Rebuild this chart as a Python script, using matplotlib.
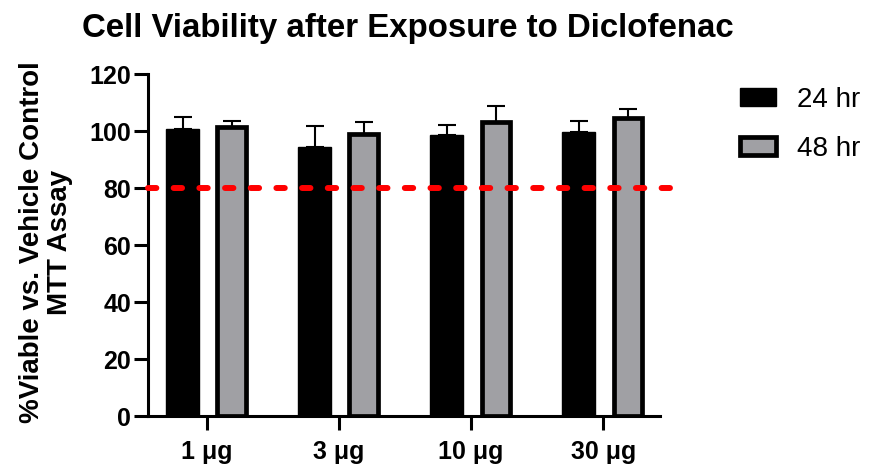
import matplotlib
matplotlib.use("Agg")
import matplotlib.pyplot as plt
import numpy as np
from matplotlib.patches import Patch

plt.rcParams['font.family'] = ['Liberation Sans', 'DejaVu Sans']

doses = ["1 \u03bcg", "3 \u03bcg", "10 \u03bcg", "30 \u03bcg"]
viab_24 = [100.7, 94.3, 98.8, 99.8]
err_24 = [4.3, 7.5, 3.5, 3.7]
viab_48 = [101.5, 99.0, 103.2, 104.7]
err_48 = [2.2, 4.3, 5.7, 3.2]
threshold = 80
yticks = [0, 20, 40, 60, 80, 100, 120]

fig = plt.figure(figsize=(8.69, 4.69), dpi=100)
ax = fig.add_axes([0.1703, 0.113, 0.5892, 0.729])

x = np.arange(len(doses))
off = 0.1856
gray = "#a0a0a4"

ax.bar(x - off, viab_24, width=0.25, color="black", edgecolor="black",
       linewidth=1.0, zorder=3)
ax.bar(x + off, viab_48, width=0.214, color=gray, edgecolor="black",
       linewidth=3.4, zorder=3)

ax.errorbar(x - off, viab_24, yerr=[np.zeros(len(err_24)), err_24], fmt="none",
            ecolor="black", elinewidth=1.5, capsize=6.2, capthick=1.5, zorder=2)
ax.errorbar(x + off, viab_48, yerr=[np.zeros(len(err_48)), err_48], fmt="none",
            ecolor="black", elinewidth=1.5, capsize=6.2, capthick=1.5, zorder=2)

# 80 % viability reference line
ax.plot([-0.447, 3.515], [threshold, threshold], color="#ff0000", lw=4.3,
        ls=(0, (1.4, 2.9)), dash_capstyle="round", clip_on=False, zorder=4)

ax.set_xlim(-0.447, 3.43)
ax.set_ylim(0, 120)
ax.set_yticks(yticks)
ax.set_xticks(x)
ax.set_xticklabels(doses)

for s in ["top", "right"]:
    ax.spines[s].set_visible(False)
for s in ["left", "bottom"]:
    ax.spines[s].set_linewidth(2.2)
ax.tick_params(axis="both", length=10, width=2.2)
ax.tick_params(axis="y", labelsize=18, pad=2)
ax.tick_params(axis="x", labelsize=18, pad=7)
for lab in ax.get_xticklabels() + ax.get_yticklabels():
    lab.set_fontweight("bold")

fig.text(0.053, 0.484, "%Viable vs. Vehicle Control\nMTT Assay", rotation=90,
         ha="center", va="center", multialignment="center", fontsize=20,
         fontweight="bold", linespacing=1.1)
fig.text(0.4695, 0.94, "Cell Viability after Exposure to Diclofenac",
         ha="center", va="center", fontsize=23.8, fontweight="bold")

handles = [Patch(facecolor="black", edgecolor="black", linewidth=1.0),
           Patch(facecolor=gray, edgecolor="black", linewidth=3.4)]
fig.legend(handles, ["24 hr", "48 hr"], loc="upper left",
           bbox_to_anchor=(0.852, 0.815), frameon=False, fontsize=20,
           borderpad=0, borderaxespad=0,
           handlelength=1.3, handleheight=0.6, handletextpad=0.75,
           labelspacing=0.82)

fig.savefig("out.png", dpi=100)
